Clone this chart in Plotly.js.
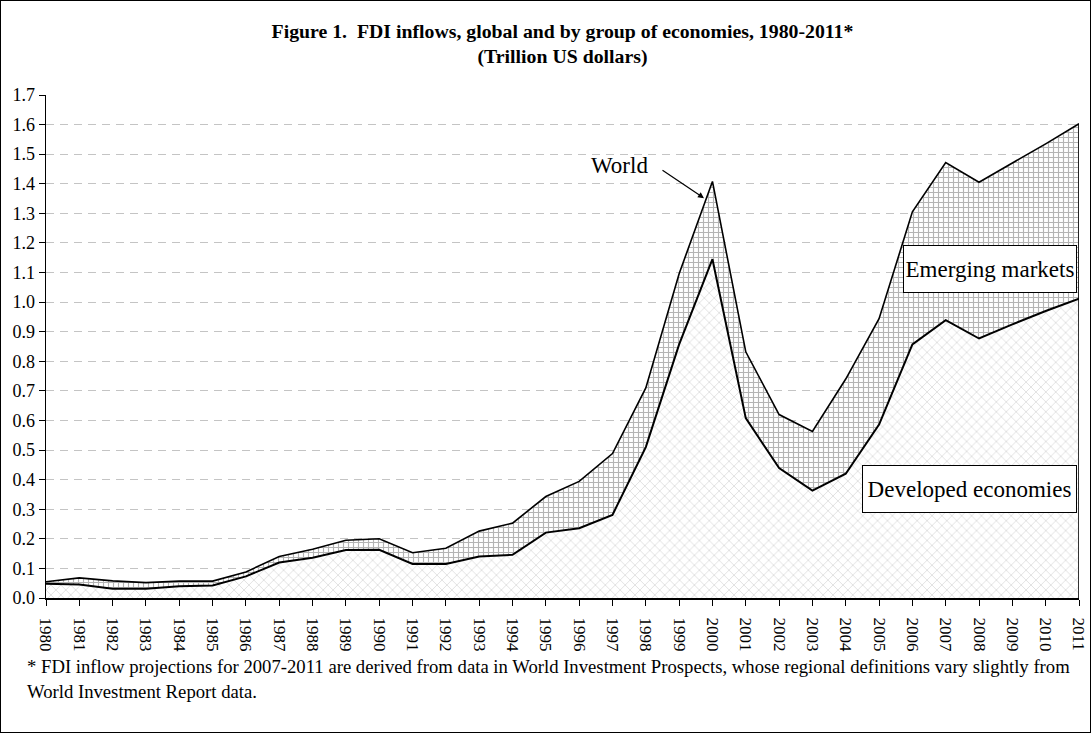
<!DOCTYPE html>
<html>
<head>
<meta charset="utf-8">
<script src="https://cdn.plot.ly/plotly-3.0.1.min.js"></script>
<style>
html,body{margin:0;padding:0;background:#fff;}
#frame{width:1091px;height:733px;box-sizing:border-box;border:1.5px solid #000;overflow:hidden;}
#chart{width:1088px;height:730px;}
</style>
</head>
<body>
<div id="frame"><div id="chart"></div></div>
<script>
var years = [1980,1981,1982,1983,1984,1985,1986,1987,1988,1989,1990,1991,1992,1993,1994,1995,1996,1997,1998,1999,2000,2001,2002,2003,2004,2005,2006,2007,2008,2009,2010,2011];
var world = [0.055,0.068,0.058,0.052,0.057,0.057,0.088,0.140,0.165,0.195,0.200,0.153,0.168,0.226,0.253,0.343,0.394,0.488,0.710,1.096,1.408,0.832,0.620,0.563,0.740,0.944,1.305,1.472,1.405,1.470,1.535,1.603];
var developed = [0.048,0.046,0.031,0.031,0.040,0.042,0.073,0.120,0.136,0.162,0.163,0.115,0.115,0.140,0.146,0.221,0.236,0.281,0.510,0.857,1.145,0.608,0.439,0.363,0.420,0.586,0.857,0.939,0.877,0.925,0.970,1.012];
var yTicks = [0,0.1,0.2,0.3,0.4,0.5,0.6,0.7,0.8,0.9,1.0,1.1,1.2,1.3,1.4,1.5,1.6,1.7];
var yTickText = yTicks.map(function(v){return v.toFixed(1);});
var xTickText = years.map(String);

var FONT = 'Liberation Serif, Times New Roman, serif';
var last = years.length - 1;

var traces = [
  {
    x: years, y: developed, type: 'scatter', mode: 'lines', fill: 'tozeroy',
    line: {color: '#000', width: 2},
    fillcolor: '#ffffff',
    fillpattern: {shape: 'x', fgcolor: '#cacaca', bgcolor: '#ffffff', size: 7, solidity: 0.15},
    hoverinfo: 'skip', showlegend: false
  },
  {
    x: years, y: world, type: 'scatter', mode: 'lines', fill: 'tonexty',
    line: {color: '#000', width: 1.6},
    fillcolor: '#ffffff',
    fillpattern: {shape: '+', fgcolor: '#b4b4b4', bgcolor: '#ffffff', size: 5, solidity: 0.4},
    hoverinfo: 'skip', showlegend: false
  },
  {
    x: [years[last], years[last]], y: [0, world[last]], type: 'scatter', mode: 'lines',
    line: {color: '#000', width: 1.6}, hoverinfo: 'skip', showlegend: false
  }
];

function px2x(px){ return (px - 47) / 1033; }
function py2y(py){ return (598 - py) / 502; }

var layout = {
  width: 1088, height: 730,
  paper_bgcolor: '#fff', plot_bgcolor: '#fff',
  margin: {l: 45, r: 10, t: 94, b: 133},
  font: {family: FONT, color: '#000', size: 16},
  title: {
    text: '<b>Figure 1.  FDI inflows, global and by group of economies, 1980-2011*</b><br><b>(Trillion US dollars)</b>',
    font: {family: FONT, size: 19.8, color: '#000'},
    x: 0.5, xref: 'paper', xanchor: 'center',
    y: 0.95, yref: 'container', yanchor: 'top'
  },
  xaxis: {
    range: [1980, 2011],
    tickmode: 'array', tickvals: years,
    ticktext: xTickText.map(function(t){ return '\u00A0\u00A0' + t; }),
    tickangle: 90, ticks: 'outside', ticklen: 6, tickcolor: '#000', tickwidth: 1,
    ticklabeloverflow: 'allow',
    showline: true, linecolor: '#000', linewidth: 1.5,
    showgrid: false, zeroline: false,
    tickfont: {family: FONT, size: 17, color: '#000'}
  },
  yaxis: {
    range: [0, 1.7],
    tickmode: 'array', tickvals: yTicks, ticktext: yTickText,
    ticks: 'outside', ticklen: 6, tickcolor: '#000', tickwidth: 1,
    showline: true, linecolor: '#000', linewidth: 1.5,
    showgrid: true, gridcolor: '#c4c4c4', griddash: '8px,6px', gridwidth: 1,
    zeroline: false,
    tickfont: {family: FONT, size: 18, color: '#000'}
  },
  annotations: [
    {xref: 'paper', yref: 'paper', x: px2x(620), y: py2y(166), text: 'World', showarrow: false,
     font: {family: FONT, size: 23, color: '#000'}, xanchor: 'center', yanchor: 'middle'},
    {xref: 'paper', yref: 'paper', x: px2x(705), y: py2y(199), text: '', showarrow: true,
     ax: -43, ay: -29, arrowhead: 2, arrowsize: 1, arrowwidth: 1.2, arrowcolor: '#000'},
    {xref: 'paper', yref: 'paper', x: px2x(991), y: py2y(269.5), text: 'Emerging markets', showarrow: false,
     font: {family: FONT, size: 23, color: '#000'}, xanchor: 'center', yanchor: 'middle',
     width: 172, height: 46, borderpad: 0,
     bgcolor: '#fff', bordercolor: '#000', borderwidth: 1},
    {xref: 'paper', yref: 'paper', x: px2x(970.5), y: py2y(489), text: 'Developed economies', showarrow: false,
     font: {family: FONT, size: 23, color: '#000'}, xanchor: 'center', yanchor: 'middle',
     width: 213, height: 46, borderpad: 0,
     bgcolor: '#fff', bordercolor: '#000', borderwidth: 1},
    {xref: 'paper', yref: 'paper', x: px2x(26), y: py2y(666), text: '* FDI inflow projections for 2007-2011 are derived from data in World Investment Prospects, whose regional definitions vary slightly from',
     showarrow: false, font: {family: FONT, size: 18.7, color: '#000'}, xanchor: 'left', yanchor: 'middle'},
    {xref: 'paper', yref: 'paper', x: px2x(26), y: py2y(691), text: 'World Investment Report data.',
     showarrow: false, font: {family: FONT, size: 18.7, color: '#000'}, xanchor: 'left', yanchor: 'middle'}
  ]
};

Plotly.newPlot('chart', traces, layout, {displayModeBar: false, staticPlot: true});
</script>
</body>
</html>
